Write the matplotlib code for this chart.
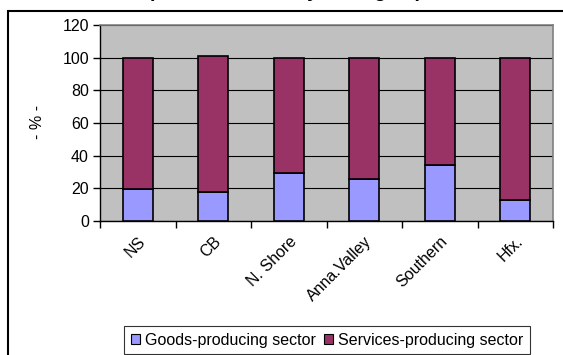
import numpy as np
import matplotlib.pyplot as plt
from matplotlib.patches import Rectangle

plt.rcParams['font.family'] = ['Liberation Sans', 'DejaVu Sans']

regions = ['NS', 'CB', 'N. Shore', 'Anna.Valley', 'Southern', 'Hfx.']
goods = [19.7, 17.6, 29.5, 25.8, 34.4, 12.7]
services = [80.3, 83.2, 70.5, 74.2, 65.6, 87.3]
series_names = ['Goods-producing sector', 'Services-producing sector']
y_ticks = [0, 20, 40, 60, 80, 100, 120]

W, H = 563, 355
fig = plt.figure(figsize=(W / 100, H / 100), dpi=100)

# chart-area frame, runs off the right and bottom edges
fig.patches.append(Rectangle((8 / W, -0.1), 1.2, 1.1 - 11 / H, transform=fig.transFigure,
                             fill=False, edgecolor='black', linewidth=1.5))

# title sits above the top edge, only the descenders show
fig.text(18 / W, 1 + 2.7 / H, 'Labour Force (% distribution, by NS region)',
         ha='left', va='baseline', fontsize=14, fontweight='bold')

ax = fig.add_axes([100 / W, (H - 221) / H, 453 / W, 196 / H])
ax.set_facecolor('#C0C0C0')

x = np.arange(len(regions))
ax.bar(x, goods, width=0.4, color='#9999FF', edgecolor='black', linewidth=1.2,
       label=series_names[0], zorder=3)
ax.bar(x, services, width=0.4, bottom=goods, color='#993366', edgecolor='black',
       linewidth=1.2, label=series_names[1], zorder=3)

ax.set_xlim(-0.5, len(regions) - 0.5)
ax.set_ylim(0, 120)
ax.set_yticks(y_ticks)
ax.yaxis.grid(True, color='black', linewidth=0.8, zorder=1)
ax.set_axisbelow(True)

ax.set_xticks(np.arange(len(regions) + 1) - 0.5)
ax.set_xticklabels([])
ax.set_xticks(x, minor=True)
ax.set_xticklabels(regions, minor=True, rotation=45, ha='right', rotation_mode='anchor',
                   fontsize=11.5)
ax.tick_params(axis='x', which='minor', length=0, pad=9)
ax.tick_params(axis='x', which='major', length=5, width=1, direction='out')
ax.tick_params(axis='y', length=5, width=1, direction='out', labelsize=11.5, pad=3)

for side in ['top', 'right']:
    ax.spines[side].set_color('#808080')
    ax.spines[side].set_linewidth(1.2)
for side in ['left', 'bottom']:
    ax.spines[side].set_color('black')
    ax.spines[side].set_linewidth(1)

fig.text(38 / W, 1 - 122 / H, '- % -', rotation=90, ha='center', va='center', fontsize=11.5)

leg = fig.legend(loc='center', bbox_to_anchor=(327 / W, 1 - 340 / H), ncol=2,
                 fontsize=11.5, frameon=True, fancybox=False, edgecolor='black',
                 handlelength=0.6, handleheight=0.6, handletextpad=0.3,
                 columnspacing=0.5, borderpad=0.4)
leg.get_frame().set_linewidth(0.8)
for h in leg.legend_handles:
    h.set_linewidth(0.8)

fig.savefig('out.png', dpi=100)
